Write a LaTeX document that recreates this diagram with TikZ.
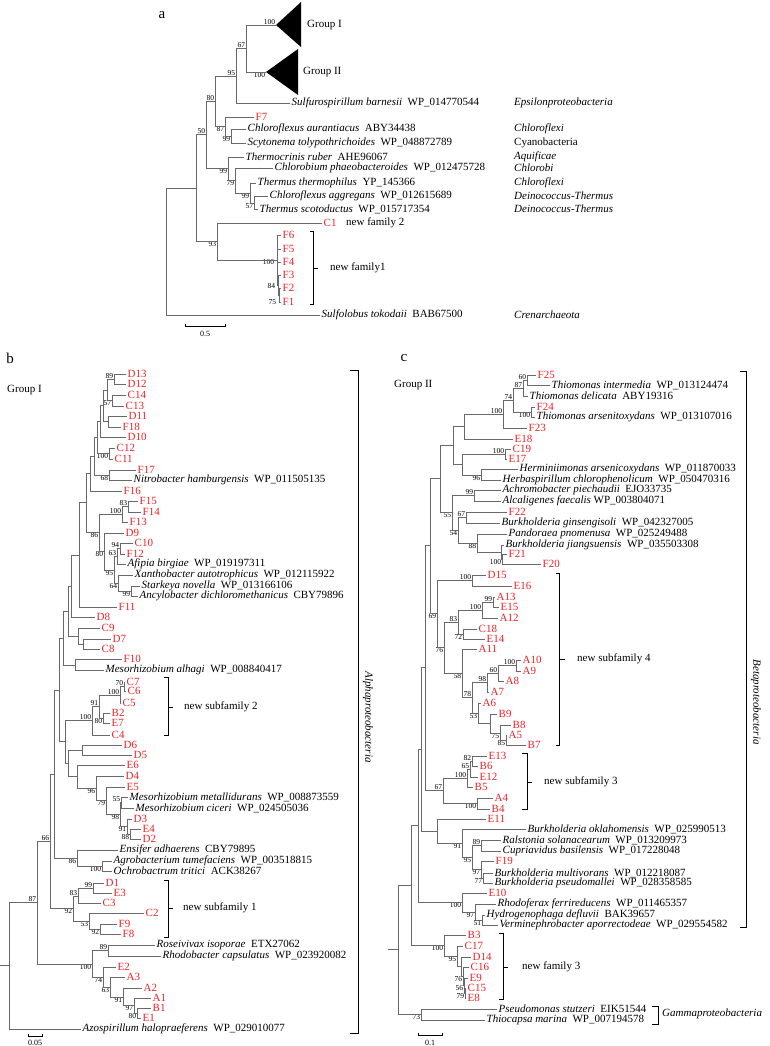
\documentclass[tikz,border=0pt]{standalone}
\usepackage{fontspec}
\setmainfont{Liberation Serif}
\definecolor{seqred}{RGB}{232,36,40}
\definecolor{treegray}{RGB}{105,105,105}
\newcommand{\leafsize}{\fontsize{11}{12}\selectfont}
\newcommand{\bootsize}{\fontsize{7.5}{8}\selectfont}
\newcommand{\taxon}[2]{\textit{#1}\hspace{0.5em}#2}
\tikzstyle{branch} = [draw=treegray, line width=0.75pt]
\tikzstyle{leaf} = [anchor=west, inner sep=1.5pt, font=\leafsize]
\tikzstyle{seq} = [leaf, text=seqred]
\tikzstyle{boot} = [inner sep=0.6pt, font=\bootsize]
\tikzstyle{bsa} = [boot, anchor=south east]
\tikzstyle{bsb} = [boot, anchor=north east]
\tikzstyle{bsl} = [boot, anchor=east]
\tikzstyle{bracket} = [draw=black, line width=0.9pt]
\tikzstyle{note} = [anchor=west, inner sep=0pt, font=\leafsize]
\tikzstyle{panel} = [inner sep=0pt, font=\fontsize{15}{15}\selectfont]
\tikzstyle{scalelab} = [inner sep=0pt, font=\fontsize{8}{8}\selectfont]

\begin{document}
\begin{tikzpicture}[x=1pt, y=-1pt]
\useasboundingbox (0,0) rectangle (770,1046);

% ---------------- panel a ----------------
\node[panel] (pa) at (162,15) {a};
\coordinate (gI) at (276,25);
\coordinate (gII) at (266,72);
\fill (gI) -- (301,2) -- (301,47) -- cycle;
\fill (gII) -- (298,49) -- (298,95) -- cycle;
\node[note] (grpI) at (307,25) {Group I};
\node[note] (grpII) at (303,72) {Group II};
\node[bsa] (v-gI) at (gI) {100};
\node[bsb] (v-gII) at (gII) {100};

\node[leaf] (sulfur) at (290,103) {\taxon{Sulfurospirillum barnesii}{WP\_014770544}};
\node[seq] (F7) at (254,117) {F7};
\node[leaf] (caur) at (246,129) {\taxon{Chloroflexus aurantiacus}{ABY34438}};
\node[leaf] (scyto) at (246,143) {\taxon{Scytonema tolypothrichoides}{WP\_048872789}};
\node[leaf] (thermoc) at (244,157) {\taxon{Thermocrinis ruber}{AHE96067}};
\node[leaf] (chlorob) at (273,168) {\taxon{Chlorobium phaeobacteroides}{WP\_012475728}};
\node[leaf] (tthermo) at (256,183) {\taxon{Thermus thermophilus}{YP\_145366}};
\node[leaf] (cagg) at (268,196) {\taxon{Chloroflexus aggregans}{WP\_012615689}};
\node[leaf] (tscot) at (258,209) {\taxon{Thermus scotoductus}{WP\_015717354}};
\node[seq] (C1) at (322,223) {C1};
\node[seq] (F6) at (281,235) {F6};
\node[seq] (F5) at (281,249) {F5};
\node[seq] (F4) at (281,262) {F4};
\node[seq] (F3) at (281,275) {F3};
\node[seq] (F2) at (281,288) {F2};
\node[seq] (F1) at (281,302) {F1};
\node[leaf] (sulfol) at (320,315) {\taxon{Sulfolobus tokodaii}{BAB67500}};

\node[note] (cl-eps) at (514,103) {\textit{Epsilonproteobacteria}};
\node[note] (cl-chx1) at (514,129) {\textit{Chloroflexi}};
\node[note] (cl-cya) at (514,143) {Cyanobacteria};
\node[note] (cl-aqu) at (514,157) {\textit{Aquificae}};
\node[note] (cl-chb) at (514,168) {\textit{Chlorobi}};
\node[note] (cl-chx2) at (514,183) {\textit{Chloroflexi}};
\node[note] (cl-dt1) at (514,196) {\textit{Deinococcus-Thermus}};
\node[note] (cl-dt2) at (514,209) {\textit{Deinococcus-Thermus}};
\node[note] (cl-cre) at (514,315) {\textit{Crenarchaeota}};
\node[note] (nf2) at (346,223) {new family 2};
\node[note] (nf1) at (330,268) {new family1};

\path (246,48) coordinate (x67) node[bsa] (v-x67) {67};
\path (236,76) coordinate (x95) node[bsa] (v-x95) {95};
\path (231,136) coordinate (x99c) node[bsb] (v-x99c) {99};
\path (225,126) coordinate (x87) node[bsb] (v-x87) {87};
\path (215,101) coordinate (x80) node[bsa] (v-x80) {80};
\path (254,203) coordinate (x57) node[bsb] (v-x57) {57};
\path (250,193) coordinate (x99d) node[bsb] (v-x99d) {99};
\path (235,180) coordinate (xT2) node[bsb] (v-xT2) {79};
\path (228,168) coordinate (xT) node[bsb] (v-xT) {99};
\path (206,134) coordinate (x50) node[bsa] (v-x50) {50};
\coordinate (x75) at (279,295);
\coordinate (x84) at (278,285);
\coordinate (xF) at (277,260);
\node[bsl] (v-x75) at (277,302) {75};
\node[bsl] (v-x84) at (276,286) {84};
\node[bsl] (v-xF) at (275,262) {100};
\path (217,241) coordinate (x93) node[bsb] (v-x93) {93};
\coordinate (xA1) at (196,188);
\coordinate (roota) at (166,251);

\draw[branch] (x67) |- (gI) (x67) |- (gII);
\draw[branch] (x95) |- (x67) (x95) |- (sulfur);
\draw[branch] (x99c) |- (caur) (x99c) |- (scyto);
\draw[branch] (x87) |- (F7) (x87) |- (x99c);
\draw[branch] (x80) |- (x95) (x80) |- (x87);
\draw[branch] (x57) |- (cagg) (x57) |- (tscot);
\draw[branch] (x99d) |- (tthermo) (x99d) |- (x57);
\draw[branch] (xT2) |- (chlorob) (xT2) |- (x99d);
\draw[branch] (xT) |- (thermoc) (xT) |- (xT2);
\draw[branch] (x50) |- (x80) (x50) |- (xT);
\draw[branch] (x75) |- (F2) (x75) |- (F1);
\draw[branch] (x84) |- (F3) (x84) |- (x75);
\draw[branch] (xF) |- (F6) (xF) |- (F5) (xF) |- (F4) (xF) |- (x84);
\draw[branch] (x93) |- (C1) (x93) |- (xF);
\draw[branch] (xA1) |- (x50) (xA1) |- (x93);
\draw[branch] (roota) |- (xA1) (roota) |- (sulfol);

\draw[bracket] (310,231) -- (313,231) -- (313,304) -- (310,304) (313,268) -- (318,268);
\draw[bracket] (185,324) -- (185,326) -- (225,326) -- (225,324);
\node[scalelab] (sa) at (205,334) {0.5};

% ---------------- panel b ----------------
\node[panel] (pb) at (10,358) {b};
\node[note] (grpIb) at (7,390) {Group I};

\node[seq] (D13) at (126,374) {D13};
\node[seq] (D12) at (126,384) {D12};
\node[seq] (C14) at (126,395) {C14};
\node[seq] (C13) at (124,406) {C13};
\node[seq] (D11) at (127,416) {D11};
\node[seq] (F18) at (121,427) {F18};
\node[seq] (D10) at (126,437) {D10};
\node[seq] (C12) at (115,448) {C12};
\node[seq] (C11) at (113,459) {C11};
\node[seq] (F17) at (136,470) {F17};
\node[leaf] (nitro) at (132,480) {\taxon{Nitrobacter hamburgensis}{WP\_011505135}};
\node[seq] (F16) at (122,491) {F16};
\node[seq] (F15) at (138,501) {F15};
\node[seq] (F14) at (141,512) {F14};
\node[seq] (F13) at (128,522) {F13};
\node[seq] (D9) at (124,533) {D9};
\node[seq] (C10) at (133,543) {C10};
\node[seq] (F12) at (125,554) {F12};
\node[leaf] (afipia) at (126,564) {\taxon{Afipia birgiae}{WP\_019197311}};
\node[leaf] (xantho) at (133,575) {\taxon{Xanthobacter autotrophicus}{WP\_012115922}};
\node[leaf] (stark) at (140,586) {\taxon{Starkeya novella}{WP\_013166106}};
\node[leaf] (ancylo) at (138,596) {\taxon{Ancylobacter dichloromethanicus}{CBY79896}};
\node[seq] (F11) at (117,607) {F11};
\node[seq] (D8) at (95,617) {D8};
\node[seq] (C9) at (100,628) {C9};
\node[seq] (D7) at (111,639) {D7};
\node[seq] (C8) at (100,649) {C8};
\node[seq] (F10) at (122,659) {F10};
\node[leaf] (malhagi) at (104,670) {\taxon{Mesorhizobium alhagi}{WP\_008840417}};
\node[seq] (C7) at (125,682) {C7};
\node[seq] (C6) at (126,691) {C6};
\node[seq] (C5) at (121,703) {C5};
\node[seq] (B2) at (110,713) {B2};
\node[seq] (E7) at (110,723) {E7};
\node[seq] (C4) at (110,735) {C4};
\node[seq] (D6) at (122,745) {D6};
\node[seq] (D5) at (132,755) {D5};
\node[seq] (E6) at (125,765) {E6};
\node[seq] (D4) at (124,776) {D4};
\node[seq] (E5) at (125,787) {E5};
\node[leaf] (mmetal) at (128,797) {\taxon{Mesorhizobium metallidurans}{WP\_008873559}};
\node[leaf] (mcic) at (134,808) {\taxon{Mesorhizobium ciceri}{WP\_024505036}};
\node[seq] (D3) at (132,819) {D3};
\node[seq] (E4) at (141,829) {E4};
\node[seq] (D2) at (141,839) {D2};
\node[leaf] (ensif) at (118,850) {\taxon{Ensifer adhaerens}{CBY79895}};
\node[leaf] (agro) at (112,861) {\taxon{Agrobacterium tumefaciens}{WP\_003518815}};
\node[leaf] (ochro) at (112,871) {\taxon{Ochrobactrum tritici}{ACK38267}};
\node[seq] (D1) at (104,883) {D1};
\node[seq] (E3) at (112,893) {E3};
\node[seq] (C3) at (101,903) {C3};
\node[seq] (C2) at (144,913) {C2};
\node[seq] (F9) at (117,924) {F9};
\node[seq] (F8) at (121,934) {F8};
\node[leaf] (rosei) at (155,945) {\taxon{Roseivivax isoporae}{ETX27062}};
\node[leaf] (rhodob) at (161,956) {\taxon{Rhodobacter capsulatus}{WP\_023920082}};
\node[seq] (E2) at (116,967) {E2};
\node[seq] (A3) at (125,977) {A3};
\node[seq] (A2) at (142,988) {A2};
\node[seq] (A1) at (151,998) {A1};
\node[seq] (B1) at (151,1008) {B1};
\node[seq] (E1) at (141,1018) {E1};
\node[leaf] (azo) at (81,1029) {\taxon{Azospirillum halopraeferens}{WP\_029010077}};

\path (114,379) coordinate (a1) node[bsa] (v-a1) {89};
\path (112,400) coordinate (a2) node[bsb] (v-a2) {57};
\coordinate (a3) at (107,390);
\coordinate (a4) at (108,421);
\coordinate (a5) at (103,405);
\coordinate (a6) at (100,421);
\path (109,453) coordinate (a7) node[bsb] (v-a7) {100};
\coordinate (a8) at (97,437);
\path (109,475) coordinate (a9) node[bsb] (v-a9) {68};
\coordinate (a10) at (94,456);
\coordinate (a11) at (90,473);
\path (128,506) coordinate (b1) node[bsa] (v-b1) {83};
\path (122,514) coordinate (b2) node[bsa] (v-b2) {100};
\path (120,548) coordinate (b3) node[bsa] (v-b3) {94};
\path (117,556) coordinate (b4) node[bsa] (v-b4) {63};
\path (131,591) coordinate (b5) node[bsb] (v-b5) {99};
\path (118,583) coordinate (b6) node[bsb] (v-b6) {64};
\path (114,570) coordinate (b7) node[bsb] (v-b7) {95};
\path (104,551) coordinate (b8) node[bsb] (v-b8) {80};
\path (99,532) coordinate (b9) node[bsb] (v-b9) {86};
\coordinate (b10) at (86,502);
\coordinate (b11) at (79,555);
\coordinate (b12) at (71,586);
\coordinate (c1) at (83,644);
\coordinate (c2) at (78,636);
\coordinate (c3) at (68,611);
\coordinate (c4) at (75,665);
\coordinate (c5) at (63,638);
\path (124,686) coordinate (d1) node[bsa] (v-d1) {70};
\path (120,695) coordinate (d2) node[bsa] (v-d2) {100};
\path (103,718) coordinate (d3) node[bsb] (v-d3) {80};
\path (99,706) coordinate (d4) node[bsa] (v-d4) {91};
\path (92,720) coordinate (d5) node[bsa] (v-d5) {100};
\coordinate (e1) at (82,750);
\path (121,802) coordinate (f1) node[bsa] (v-f1) {55};
\path (130,834) coordinate (f2) node[bsb] (v-f2) {88};
\path (127,826) coordinate (f3) node[bsb] (v-f3) {91};
\path (120,814) coordinate (f4) node[bsb] (v-f4) {98};
\path (106,800) coordinate (f5) node[bsb] (v-f5) {79};
\path (96,788) coordinate (f6) node[bsb] (v-f6) {96};
\coordinate (f7) at (77,776);
\coordinate (f8) at (68,763);
\coordinate (j1) at (65,741);
\coordinate (j2) at (59,690);
\path (102,866) coordinate (g1) node[bsb] (v-g1) {100};
\path (77,858) coordinate (g2) node[bsb] (v-g2) {86};
\coordinate (nX) at (54,774);
\path (93,888) coordinate (h1) node[bsa] (v-h1) {99};
\path (78,896) coordinate (h2) node[bsa] (v-h2) {83};
\path (100,929) coordinate (h3) node[bsb] (v-h3) {92};
\path (89,921) coordinate (h4) node[bsb] (v-h4) {53};
\path (73,908) coordinate (h5) node[bsb] (v-h5) {92};
\path (50,841) coordinate (n66) node[bsa] (v-n66) {66};
\path (108,950) coordinate (i1) node[bsa] (v-i1) {89};
\path (137,1013) coordinate (i2) node[bsb] (v-i2) {80};
\path (134,1005) coordinate (i3) node[bsb] (v-i3) {97};
\path (123,997) coordinate (i4) node[bsb] (v-i4) {91};
\path (110,987) coordinate (i5) node[bsb] (v-i5) {63};
\path (103,977) coordinate (i6) node[bsb] (v-i6) {74};
\path (92,964) coordinate (i7) node[bsb] (v-i7) {100};
\path (37,902) coordinate (n87) node[bsa] (v-n87) {87};
\coordinate (rootb) at (9,965);
\coordinate (stubb) at (0,965);

\draw[branch] (a1) |- (D13) (a1) |- (D12);
\draw[branch] (a2) |- (C14) (a2) |- (C13);
\draw[branch] (a3) |- (a1) (a3) |- (a2);
\draw[branch] (a4) |- (D11) (a4) |- (F18);
\draw[branch] (a5) |- (a3) (a5) |- (a4);
\draw[branch] (a6) |- (a5) (a6) |- (D10);
\draw[branch] (a7) |- (C12) (a7) |- (C11);
\draw[branch] (a8) |- (a6) (a8) |- (a7);
\draw[branch] (a9) |- (F17) (a9) |- (nitro);
\draw[branch] (a10) |- (a8) (a10) |- (a9);
\draw[branch] (a11) |- (a10) (a11) |- (F16);
\draw[branch] (b1) |- (F15) (b1) |- (F14);
\draw[branch] (b2) |- (b1) (b2) |- (F13);
\draw[branch] (b3) |- (C10) (b3) |- (F12);
\draw[branch] (b4) |- (b3) (b4) |- (afipia);
\draw[branch] (b5) |- (stark) (b5) |- (ancylo);
\draw[branch] (b6) |- (xantho) (b6) |- (b5);
\draw[branch] (b7) |- (b4) (b7) |- (b6);
\draw[branch] (b8) |- (D9) (b8) |- (b7);
\draw[branch] (b9) |- (b2) (b9) |- (b8);
\draw[branch] (b10) |- (a11) (b10) |- (b9);
\draw[branch] (b11) |- (b10) (b11) |- (F11);
\draw[branch] (b12) |- (b11) (b12) |- (D8);
\draw[branch] (c1) |- (D7) (c1) |- (C8);
\draw[branch] (c2) |- (C9) (c2) |- (c1);
\draw[branch] (c3) |- (b12) (c3) |- (c2);
\draw[branch] (c4) |- (F10) (c4) |- (malhagi);
\draw[branch] (c5) |- (c3) (c5) |- (c4);
\draw[branch] (d1) |- (C7) (d1) |- (C6);
\draw[branch] (d2) |- (d1) (d2) |- (C5);
\draw[branch] (d3) |- (B2) (d3) |- (E7);
\draw[branch] (d4) |- (d2) (d4) |- (d3);
\draw[branch] (d5) |- (d4) (d5) |- (C4);
\draw[branch] (e1) |- (D6) (e1) |- (D5);
\draw[branch] (f1) |- (mmetal) (f1) |- (mcic);
\draw[branch] (f2) |- (E4) (f2) |- (D2);
\draw[branch] (f3) |- (D3) (f3) |- (f2);
\draw[branch] (f4) |- (f1) (f4) |- (f3);
\draw[branch] (f5) |- (E5) (f5) |- (f4);
\draw[branch] (f6) |- (D4) (f6) |- (f5);
\draw[branch] (f7) |- (E6) (f7) |- (f6);
\draw[branch] (f8) |- (e1) (f8) |- (f7);
\draw[branch] (j1) |- (d5) (j1) |- (f8);
\draw[branch] (j2) |- (c5) (j2) |- (j1);
\draw[branch] (g1) |- (agro) (g1) |- (ochro);
\draw[branch] (g2) |- (ensif) (g2) |- (g1);
\draw[branch] (nX) |- (j2) (nX) |- (g2);
\draw[branch] (h1) |- (D1) (h1) |- (E3);
\draw[branch] (h2) |- (h1) (h2) |- (C3);
\draw[branch] (h3) |- (F9) (h3) |- (F8);
\draw[branch] (h4) |- (C2) (h4) |- (h3);
\draw[branch] (h5) |- (h2) (h5) |- (h4);
\draw[branch] (n66) |- (nX) (n66) |- (h5);
\draw[branch] (i1) |- (rosei) (i1) |- (rhodob);
\draw[branch] (i2) |- (B1) (i2) |- (E1);
\draw[branch] (i3) |- (A1) (i3) |- (i2);
\draw[branch] (i4) |- (A2) (i4) |- (i3);
\draw[branch] (i5) |- (A3) (i5) |- (i4);
\draw[branch] (i6) |- (E2) (i6) |- (i5);
\draw[branch] (i7) |- (i1) (i7) |- (i6);
\draw[branch] (n87) |- (n66) (n87) |- (i7);
\draw[branch] (rootb) |- (n87) (rootb) |- (azo) (stubb) -- (rootb);

\draw[bracket] (164,677) -- (168,677) -- (168,735) -- (164,735) (168,707) -- (173,707);
\node[note] (nsf2) at (184,707) {new subfamily 2};
\draw[bracket] (164,880) -- (168,880) -- (168,937) -- (164,937) (168,908) -- (173,908);
\node[note] (nsf1) at (183,908) {new subfamily 1};
\draw[bracket] (350,370) -- (358,370) -- (358,1033) -- (350,1033);
\node[rotate=-90, inner sep=0pt, font=\leafsize] (alpha) at (368,717) {\textit{Alphaproteobacteria}};
\draw[bracket] (28,1034) -- (28,1036) -- (42,1036) -- (42,1034);
\node[scalelab] (sb) at (35,1043) {0.05};

% ---------------- panel c ----------------
\node[panel] (pc) at (404,358) {c};
\node[note] (grpIIc) at (394,385) {Group II};

\node[seq] (F25) at (536,375) {F25};
\node[leaf] (tinter) at (550,385) {\taxon{Thiomonas intermedia}{WP\_013124474}};
\node[leaf] (tdelic) at (528,396) {\taxon{Thiomonas delicata}{ABY19316}};
\node[seq] (F24) at (535,407) {F24};
\node[leaf] (tarsen) at (535,417) {\taxon{Thiomonas arsenitoxydans}{WP\_013107016}};
\node[seq] (F23) at (527,428) {F23};
\node[seq] (E18) at (513,439) {E18};
\node[seq] (C19) at (511,449) {C19};
\node[seq] (E17) at (507,459) {E17};
\node[leaf] (hermin) at (518,469) {\taxon{Herminiimonas arsenicoxydans}{WP\_011870033}};
\node[leaf] (herbas) at (501,480) {\taxon{Herbaspirillum chlorophenolicum}{WP\_050470316}};
\node[leaf] (achro) at (501,490) {\taxon{Achromobacter piechaudii}{EJO33735}};
\node[leaf] (alcal) at (501,501) {\textit{Alcaligenes faecalis} WP\_003804071};
\node[seq] (F22) at (507,512) {F22};
\node[leaf] (bgins) at (500,523) {\taxon{Burkholderia ginsengisoli}{WP\_042327005}};
\node[leaf] (pando) at (507,534) {\taxon{Pandoraea pnomenusa}{WP\_025249488}};
\node[leaf] (bjiang) at (504,545) {\taxon{Burkholderia jiangsuensis}{WP\_035503308}};
\node[seq] (F21) at (507,554) {F21};
\node[seq] (F20) at (541,564) {F20};
\node[seq] (D15) at (486,575) {D15};
\node[seq] (E16) at (512,586) {E16};
\node[seq] (A13) at (495,597) {A13};
\node[seq] (E15) at (499,607) {E15};
\node[seq] (A12) at (498,618) {A12};
\node[seq] (C18) at (477,629) {C18};
\node[seq] (E14) at (485,639) {E14};
\node[seq] (A11) at (477,649) {A11};
\node[seq] (A10) at (521,660) {A10};
\node[seq] (A9) at (521,671) {A9};
\node[seq] (A8) at (504,681) {A8};
\node[seq] (A7) at (489,692) {A7};
\node[seq] (A6) at (481,703) {A6};
\node[seq] (B9) at (497,714) {B9};
\node[seq] (B8) at (511,725) {B8};
\node[seq] (A5) at (507,735) {A5};
\node[seq] (B7) at (526,745) {B7};
\node[seq] (E13) at (487,756) {E13};
\node[seq] (B6) at (478,766) {B6};
\node[seq] (E12) at (478,777) {E12};
\node[seq] (B5) at (473,787) {B5};
\node[seq] (A4) at (493,798) {A4};
\node[seq] (B4) at (490,809) {B4};
\node[seq] (E11) at (486,819) {E11};
\node[leaf] (bokla) at (526,829) {\taxon{Burkholderia oklahomensis}{WP\_025990513}};
\node[leaf] (ralst) at (501,840) {\taxon{Ralstonia solanacearum}{WP\_013209973}};
\node[leaf] (cupri) at (501,851) {\taxon{Cupriavidus basilensis}{WP\_017228048}};
\node[seq] (F19) at (494,861) {F19};
\node[leaf] (bmulti) at (493,873) {\taxon{Burkholderia multivorans}{WP\_012218087}};
\node[leaf] (bpseudo) at (493,883) {\taxon{Burkholderia pseudomallei}{WP\_028358585}};
\node[seq] (E10) at (487,893) {E10};
\node[leaf] (rhodof) at (496,904) {\taxon{Rhodoferax ferrireducens}{WP\_011465357}};
\node[leaf] (hydro) at (485,915) {\taxon{Hydrogenophaga defluvii}{BAK39657}};
\node[leaf] (vermi) at (498,925) {\taxon{Verminephrobacter aporrectodeae}{WP\_029554582}};
\node[seq] (B3) at (466,935) {B3};
\node[seq] (C17) at (463,946) {C17};
\node[seq] (D14) at (471,957) {D14};
\node[seq] (C16) at (469,967) {C16};
\node[seq] (E9) at (468,978) {E9};
\node[seq] (C15) at (466,988) {C15};
\node[seq] (E8) at (466,998) {E8};
\node[leaf] (pseudo) at (497,1009) {\taxon{Pseudomonas stutzeri}{EIK51544}};
\node[leaf] (thioc) at (485,1020) {\taxon{Thiocapsa marina}{WP\_007194578}};

\path (527,380) coordinate (k1) node[bsa] (v-k1) {60};
\path (523,388) coordinate (k2) node[bsa] (v-k2) {87};
\path (531,412) coordinate (k3) node[bsb] (v-k3) {100};
\path (513,400) coordinate (k4) node[bsa] (v-k4) {74};
\path (503,414) coordinate (k5) node[bsa] (v-k5) {100};
\coordinate (k6) at (464,426);
\path (505,454) coordinate (k7) node[bsa] (v-k7) {100};
\path (481,475) coordinate (k8) node[bsb] (v-k8) {96};
\coordinate (k9) at (462,464);
\coordinate (k10) at (453,445);
\path (474,495) coordinate (k11) node[bsa] (v-k11) {99};
\path (466,517) coordinate (k12) node[bsa] (v-k12) {67};
\path (502,559) coordinate (k13) node[bsb] (v-k13) {100};
\coordinate (k14) at (501,552);
\path (477,543) coordinate (k15) node[bsb] (v-k15) {88};
\path (458,530) coordinate (k16) node[bsb] (v-k16) {54};
\path (452,512) coordinate (k17) node[bsb] (v-k17) {55};
\coordinate (k18) at (440,478);
\path (472,580) coordinate (m1) node[bsa] (v-m1) {100};
\path (493,602) coordinate (m2) node[bsa] (v-m2) {99};
\path (482,610) coordinate (m3) node[bsa] (v-m3) {100};
\path (463,634) coordinate (m4) node[bsb] (v-m4) {72};
\path (458,622) coordinate (m5) node[bsa] (v-m5) {83};
\path (516,665) coordinate (m6) node[bsa] (v-m6) {100};
\path (498,673) coordinate (m7) node[bsa] (v-m7) {60};
\path (487,682) coordinate (m8) node[bsa] (v-m8) {98};
\path (506,740) coordinate (m9) node[bsb] (v-m9) {85};
\path (500,733) coordinate (m10) node[bsb] (v-m10) {75};
\coordinate (m11) at (490,723);
\path (478,713) coordinate (m12) node[bsb] (v-m12) {53};
\path (472,697) coordinate (m13) node[bsa] (v-m13) {78};
\path (462,673) coordinate (m14) node[bsb] (v-m14) {58};
\path (444,647) coordinate (m15) node[bsb] (v-m15) {76};
\path (437,613) coordinate (m16) node[bsb] (v-m16) {69};
\path (472,761) coordinate (p1) node[bsa] (v-p1) {82};
\path (470,769) coordinate (p2) node[bsa] (v-p2) {65};
\path (467,778) coordinate (p3) node[bsa] (v-p3) {100};
\path (477,803) coordinate (p4) node[bsb] (v-p4) {100};
\path (443,790) coordinate (p5) node[bsa] (v-p5) {67};
\path (481,845) coordinate (q1) node[bsa] (v-q1) {89};
\path (483,878) coordinate (q2) node[bsb] (v-q2) {77};
\path (481,869) coordinate (q3) node[bsb] (v-q3) {97};
\path (472,857) coordinate (q4) node[bsb] (v-q4) {95};
\path (462,843) coordinate (q5) node[bsb] (v-q5) {91};
\coordinate (q6) at (437,831);
\path (482,920) coordinate (r1) node[bsb] (v-r1) {51};
\path (475,912) coordinate (r2) node[bsb] (v-r2) {97};
\path (462,902) coordinate (r3) node[bsb] (v-r3) {100};
\path (465,993) coordinate (s1) node[bsb] (v-s1) {79};
\path (464,985) coordinate (s2) node[bsb] (v-s2) {56};
\path (463,976) coordinate (s3) node[bsb] (v-s3) {76};
\coordinate (s4) at (461,966);
\path (457,956) coordinate (s5) node[bsb] (v-s5) {95};
\path (444,945) coordinate (s6) node[bsb] (v-s6) {100};
\coordinate (t1) at (430,545);
\coordinate (t2) at (425,667);
\coordinate (t3) at (421,749);
\coordinate (bt1) at (418,825);
\coordinate (bt0) at (411,885);
\path (421,1014) coordinate (gam) node[bsb] (v-gam) {73};
\coordinate (rootc) at (398,949);
\coordinate (stubc) at (388,949);

\draw[branch] (k1) |- (F25) (k1) |- (tinter);
\draw[branch] (k2) |- (k1) (k2) |- (tdelic);
\draw[branch] (k3) |- (F24) (k3) |- (tarsen);
\draw[branch] (k4) |- (k2) (k4) |- (k3);
\draw[branch] (k5) |- (k4) (k5) |- (F23);
\draw[branch] (k6) |- (k5) (k6) |- (E18);
\draw[branch] (k7) |- (C19) (k7) |- (E17);
\draw[branch] (k8) |- (hermin) (k8) |- (herbas);
\draw[branch] (k9) |- (k7) (k9) |- (k8);
\draw[branch] (k10) |- (k6) (k10) |- (k9);
\draw[branch] (k11) |- (achro) (k11) |- (alcal);
\draw[branch] (k12) |- (F22) (k12) |- (bgins);
\draw[branch] (k13) |- (F21) (k13) |- (F20);
\draw[branch] (k14) |- (bjiang) (k14) |- (k13);
\draw[branch] (k15) |- (pando) (k15) |- (k14);
\draw[branch] (k16) |- (k12) (k16) |- (k15);
\draw[branch] (k17) |- (k11) (k17) |- (k16);
\draw[branch] (k18) |- (k10) (k18) |- (k17);
\draw[branch] (m1) |- (D15) (m1) |- (E16);
\draw[branch] (m2) |- (A13) (m2) |- (E15);
\draw[branch] (m3) |- (m2) (m3) |- (A12);
\draw[branch] (m4) |- (C18) (m4) |- (E14);
\draw[branch] (m5) |- (m3) (m5) |- (m4);
\draw[branch] (m6) |- (A10) (m6) |- (A9);
\draw[branch] (m7) |- (m6) (m7) |- (A8);
\draw[branch] (m8) |- (m7) (m8) |- (A7);
\draw[branch] (m9) |- (A5) (m9) |- (B7);
\draw[branch] (m10) |- (B8) (m10) |- (m9);
\draw[branch] (m11) |- (B9) (m11) |- (m10);
\draw[branch] (m12) |- (A6) (m12) |- (m11);
\draw[branch] (m13) |- (m8) (m13) |- (m12);
\draw[branch] (m14) |- (A11) (m14) |- (m13);
\draw[branch] (m15) |- (m5) (m15) |- (m14);
\draw[branch] (m16) |- (m1) (m16) |- (m15);
\draw[branch] (p1) |- (E13) (p1) |- (B6);
\draw[branch] (p2) |- (p1) (p2) |- (E12);
\draw[branch] (p3) |- (p2) (p3) |- (B5);
\draw[branch] (p4) |- (A4) (p4) |- (B4);
\draw[branch] (p5) |- (p3) (p5) |- (p4);
\draw[branch] (q1) |- (ralst) (q1) |- (cupri);
\draw[branch] (q2) |- (bmulti) (q2) |- (bpseudo);
\draw[branch] (q3) |- (F19) (q3) |- (q2);
\draw[branch] (q4) |- (q1) (q4) |- (q3);
\draw[branch] (q5) |- (bokla) (q5) |- (q4);
\draw[branch] (q6) |- (E11) (q6) |- (q5);
\draw[branch] (r1) |- (hydro) (r1) |- (vermi);
\draw[branch] (r2) |- (rhodof) (r2) |- (r1);
\draw[branch] (r3) |- (E10) (r3) |- (r2);
\draw[branch] (s1) |- (C15) (s1) |- (E8);
\draw[branch] (s2) |- (E9) (s2) |- (s1);
\draw[branch] (s3) |- (C16) (s3) |- (s2);
\draw[branch] (s4) |- (D14) (s4) |- (s3);
\draw[branch] (s5) |- (C17) (s5) |- (s4);
\draw[branch] (s6) |- (B3) (s6) |- (s5);
\draw[branch] (t1) |- (k18) (t1) |- (m16);
\draw[branch] (t2) |- (t1) (t2) |- (p5);
\draw[branch] (t3) |- (t2) (t3) |- (q6);
\draw[branch] (bt1) |- (t3) (bt1) |- (r3);
\draw[branch] (bt0) |- (bt1) (bt0) |- (s6);
\draw[branch] (gam) |- (pseudo) (gam) |- (thioc);
\draw[branch] (rootc) |- (bt0) (rootc) |- (gam) (stubc) -- (rootc);

\draw[bracket] (556,573) -- (559,573) -- (559,745) -- (556,745) (559,659) -- (565,659);
\node[note] (nsf4) at (577,659) {new subfamily 4};
\draw[bracket] (522,753) -- (527,753) -- (527,809) -- (522,809) (527,782) -- (532,782);
\node[note] (nsf3) at (544,782) {new subfamily 3};
\draw[bracket] (499,933) -- (503,933) -- (503,999) -- (499,999) (503,967) -- (508,967);
\node[note] (nf3) at (522,967) {new family 3};
\draw[bracket] (740,371) -- (746,371) -- (746,927) -- (740,927);
\node[rotate=-90, inner sep=0pt, font=\leafsize] (beta) at (756,702) {\textit{Betaproteobacteria}};
\draw[bracket] (652,1006) -- (658,1006) -- (658,1024) -- (652,1024);
\node[note] (gamma) at (662,1014) {\textit{Gammaproteobacteria}};
\draw[bracket] (418,1033) -- (418,1035) -- (442,1035) -- (442,1033);
\node[scalelab] (sc) at (430,1043) {0.1};
\end{tikzpicture}
\end{document}
